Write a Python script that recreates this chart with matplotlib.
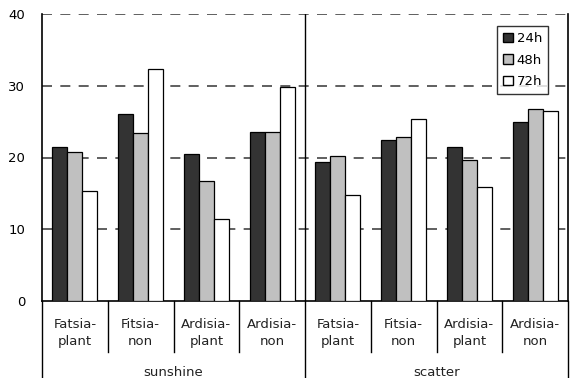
import numpy as np
import matplotlib
matplotlib.use("Agg")
import matplotlib.pyplot as plt
import matplotlib.transforms as mtransforms
from matplotlib.patches import Patch

plt.rcParams['font.family'] = ['DejaVu Sans']

groups = ["sunshine", "scatter"]
categories = ["Fatsia-\nplant", "Fitsia-\nnon", "Ardisia-\nplant", "Ardisia-\nnon"] * 2
series = ["24h", "48h", "72h"]
v24 = [21.5, 26.1, 20.5, 23.6, 19.4, 22.4, 21.5, 24.9]
v48 = [20.7, 23.4, 16.7, 23.5, 20.2, 22.9, 19.7, 26.7]
v72 = [15.3, 32.3, 11.4, 29.8, 14.8, 25.4, 15.9, 26.5]
colors = ["#333333", "#c0c0c0", "#ffffff"]
yticks = [0, 10, 20, 30, 40]

fig = plt.figure(figsize=(5.72, 3.78), dpi=100)
ax = fig.add_axes([42 / 572, 77 / 378, 526 / 572, 287 / 378])

x = np.arange(len(categories))
w = 0.228
for i, (vals, c, lab) in enumerate(zip([v24, v48, v72], colors, series)):
    ax.bar(x + (i - 1) * w, vals, w, color=c, edgecolor="black", linewidth=0.9,
           label=lab, zorder=3)

ax.set_xlim(-0.5, len(categories) - 0.5)
ax.set_ylim(0, 40)
ax.set_yticks(yticks)
ax.tick_params(axis="y", length=0, pad=12, labelsize=9.5)
ax.set_xticks([])
for y in yticks[1:]:
    ax.axhline(y, color="#444444", linestyle=(0, (6, 5)), linewidth=1.2, zorder=1)
ax.spines["top"].set_visible(False)
for s in ["left", "right", "bottom"]:
    ax.spines[s].set_linewidth(1.2)
ax.axvline(3.5, color="black", linewidth=1.0, zorder=2)

# category / group labels below the axis
trans = mtransforms.blended_transform_factory(ax.transData, ax.transAxes)
px = 1 / 287
for k in range(1, len(categories)):
    if k == 4:
        continue
    ax.plot([k - 0.5, k - 0.5], [0, -51 * px], color="black", linewidth=1.0,
            transform=trans, clip_on=False)
for xb in [-0.5, 3.5, 7.5]:
    ax.plot([xb, xb], [0, -77 * px], color="black", linewidth=1.0,
            transform=trans, clip_on=False)
for k, lab in enumerate(categories):
    ax.text(k, -32 * px, lab, transform=trans, ha="center", va="center",
            fontsize=9.5, linespacing=1.45, color="#222222")
for g, lab in enumerate(groups):
    ax.text(1.5 + 4 * g, -71 * px, lab, transform=trans, ha="center",
            va="center", fontsize=9.5, color="#222222")

handles = [Patch(facecolor=c, edgecolor="black", label=l) for c, l in zip(colors, series)]
leg = ax.legend(handles=handles, loc="upper right", bbox_to_anchor=(0.962, 0.958),
                fontsize=9.5, frameon=True, fancybox=False, handlelength=0.75,
                handleheight=0.75, handletextpad=0.3, borderpad=0.45,
                labelspacing=0.65, borderaxespad=0)
leg.get_frame().set_edgecolor("black")
leg.get_frame().set_linewidth(1.0)

fig.savefig("out.png", dpi=100)
